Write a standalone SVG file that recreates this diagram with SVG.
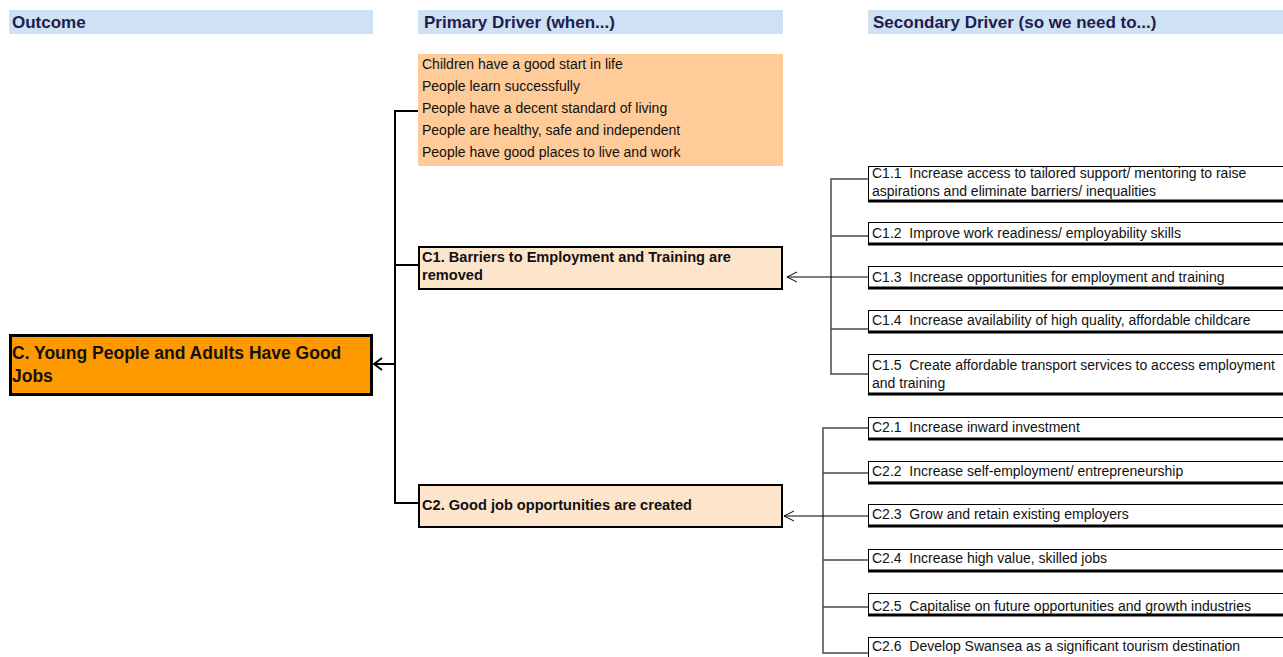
<svg xmlns="http://www.w3.org/2000/svg" width="1283" height="657" viewBox="0 0 1283 657">
  <style>
    text { white-space: pre; }
    .hdr-bg { fill: #cfe2f3; }
    .hdr { font-family: "Liberation Sans", Arial, sans-serif; font-weight: bold; font-size: 17px; fill: #221c4e; }
    .txt { font-family: "Liberation Sans", Arial, sans-serif; font-size: 14px; fill: #111; }
    .bold { font-family: "Liberation Sans", Arial, sans-serif; font-weight: bold; font-size: 14.6px; fill: #111; }
    .big { font-family: "Liberation Sans", Arial, sans-serif; font-weight: bold; font-size: 17.5px; fill: #111; }
    .sec { fill: #fff; stroke: #000; stroke-width: 1; }
    .sec-edge { stroke: #000; stroke-width: 3; }
    .prim { fill: #fde5cc; stroke: #000; stroke-width: 2; }
    .trunk { fill: none; stroke: #000; stroke-width: 2; }
    .branch { fill: none; stroke: #4a4a4a; stroke-width: 1.5; }
    .feed { fill: none; stroke: #000; stroke-width: 1; }
  </style>
  <defs>
    <!-- open chevron heads, drawn pointing along +x with the tip at the reference point -->
    <marker id="openHead" viewBox="-1 -1 12 12" refX="10" refY="5" markerWidth="12" markerHeight="12" markerUnits="userSpaceOnUse" orient="auto">
      <path d="M0,0 L10,5 L0,10" fill="none" stroke="#000" stroke-width="1"/>
    </marker>
    <marker id="openHeadBold" viewBox="-2 -2 12 16" refX="8" refY="6" markerWidth="12" markerHeight="16" markerUnits="userSpaceOnUse" orient="auto">
      <path d="M0,0 L8,6 L0,12" fill="none" stroke="#000" stroke-width="2"/>
    </marker>
  </defs>

  <rect width="1283" height="657" fill="#fff"/>

  <!-- column headers -->
  <g id="headers">
    <rect class="hdr-bg" x="9" y="10" width="364" height="24"/>
    <text class="hdr" x="12" y="28">Outcome</text>
    <rect class="hdr-bg" x="418" y="10" width="365" height="24"/>
    <text class="hdr" x="424" y="28">Primary Driver (when...)</text>
    <rect class="hdr-bg" x="868" y="10" width="415" height="24"/>
    <text class="hdr" x="873" y="28">Secondary Driver (so we need to...)</text>
  </g>

  <!-- connectors -->
  <g id="connectors">
    <!-- outcome trunk -->
    <path class="trunk" d="M418,111 H395 V503 H418"/>
    <path class="trunk" d="M395,265 H418"/>
    <path class="trunk" d="M395,364 H374" marker-end="url(#openHeadBold)"/>
    <!-- C1 secondary tree -->
    <path class="branch" d="M868,179 H831 V374 H868"/>
    <path class="branch" d="M831,236 H868 M831,329 H868"/>
    <path class="feed" d="M868,277 H787" marker-end="url(#openHead)"/>
    <!-- C2 secondary tree -->
    <path class="branch" d="M868,428 H823 V653 H868"/>
    <path class="branch" d="M823,473 H868 M823,560 H868 M823,607 H868"/>
    <path class="feed" d="M868,516 H784" marker-end="url(#openHead)"/>
  </g>

  <!-- outcome -->
  <g id="outcome">
    <rect x="10.5" y="335.5" width="361" height="59" fill="#ff9900" stroke="#000" stroke-width="3"/>
    <text class="big" x="12" y="359">C. Young People and Adults Have Good</text>
    <text class="big" x="12" y="382">Jobs</text>
  </g>

  <!-- shared population outcomes -->
  <g id="population-outcomes">
    <rect x="418" y="54" width="365" height="112" fill="#ffcc99"/>
    <text class="txt" x="422" y="69">Children have a good start in life</text>
    <text class="txt" x="422" y="91">People learn successfully</text>
    <text class="txt" x="422" y="113">People have a decent standard of living</text>
    <text class="txt" x="422" y="135">People are healthy, safe and independent</text>
    <text class="txt" x="422" y="157">People have good places to live and work</text>
  </g>

  <!-- primary drivers -->
  <g id="c1">
    <rect class="prim" x="419" y="247" width="363" height="42"/>
    <text class="bold" x="422" y="262">C1. Barriers to Employment and Training are</text>
    <text class="bold" x="422" y="280">removed</text>
  </g>
  <g id="c2">
    <rect class="prim" x="419" y="485" width="363" height="42"/>
    <text class="bold" x="422" y="510">C2. Good job opportunities are created</text>
  </g>

  <!-- secondary drivers for C1 -->
  <g id="c1-1">
    <rect class="sec" x="868.5" y="166.5" width="430" height="35"/>
    <line class="sec-edge" x1="868" y1="201" x2="1283" y2="201"/>
    <text class="txt" x="872" y="178">C1.1  Increase access to tailored support/ mentoring to raise</text>
    <text class="txt" x="872" y="196">aspirations and eliminate barriers/ inequalities</text>
  </g>
  <g id="c1-2">
    <rect class="sec" x="868.5" y="222.5" width="430" height="22"/>
    <line class="sec-edge" x1="868" y1="244" x2="1283" y2="244"/>
    <text class="txt" x="872" y="238">C1.2  Improve work readiness/ employability skills</text>
  </g>
  <g id="c1-3">
    <rect class="sec" x="868.5" y="266.5" width="430" height="22"/>
    <line class="sec-edge" x1="868" y1="288" x2="1283" y2="288"/>
    <text class="txt" x="872" y="282">C1.3  Increase opportunities for employment and training</text>
  </g>
  <g id="c1-4">
    <rect class="sec" x="868.5" y="310.5" width="430" height="22"/>
    <line class="sec-edge" x1="868" y1="332" x2="1283" y2="332"/>
    <text class="txt" x="872" y="325">C1.4  Increase availability of high quality, affordable childcare</text>
  </g>
  <g id="c1-5">
    <rect class="sec" x="868.5" y="354.5" width="430" height="40"/>
    <line class="sec-edge" x1="868" y1="394" x2="1283" y2="394"/>
    <text class="txt" x="872" y="370">C1.5  Create affordable transport services to access employment</text>
    <text class="txt" x="872" y="388">and training</text>
  </g>

  <!-- secondary drivers for C2 -->
  <g id="c2-1">
    <rect class="sec" x="868.5" y="417.5" width="430" height="22"/>
    <line class="sec-edge" x1="868" y1="439" x2="1283" y2="439"/>
    <text class="txt" x="872" y="432">C2.1  Increase inward investment</text>
  </g>
  <g id="c2-2">
    <rect class="sec" x="868.5" y="461.5" width="430" height="22"/>
    <line class="sec-edge" x1="868" y1="483" x2="1283" y2="483"/>
    <text class="txt" x="872" y="476">C2.2  Increase self-employment/ entrepreneurship</text>
  </g>
  <g id="c2-3">
    <rect class="sec" x="868.5" y="504.5" width="430" height="22"/>
    <line class="sec-edge" x1="868" y1="526" x2="1283" y2="526"/>
    <text class="txt" x="872" y="519">C2.3  Grow and retain existing employers</text>
  </g>
  <g id="c2-4">
    <rect class="sec" x="868.5" y="549.5" width="430" height="22"/>
    <line class="sec-edge" x1="868" y1="571" x2="1283" y2="571"/>
    <text class="txt" x="872" y="563">C2.4  Increase high value, skilled jobs</text>
  </g>
  <g id="c2-5">
    <rect class="sec" x="868.5" y="593.5" width="430" height="22"/>
    <line class="sec-edge" x1="868" y1="615" x2="1283" y2="615"/>
    <text class="txt" x="872" y="611">C2.5  Capitalise on future opportunities and growth industries</text>
  </g>
  <g id="c2-6">
    <rect class="sec" x="868.5" y="637.5" width="430" height="30"/>
    <text class="txt" x="872" y="651">C2.6  Develop Swansea as a significant tourism destination</text>
  </g>
</svg>
